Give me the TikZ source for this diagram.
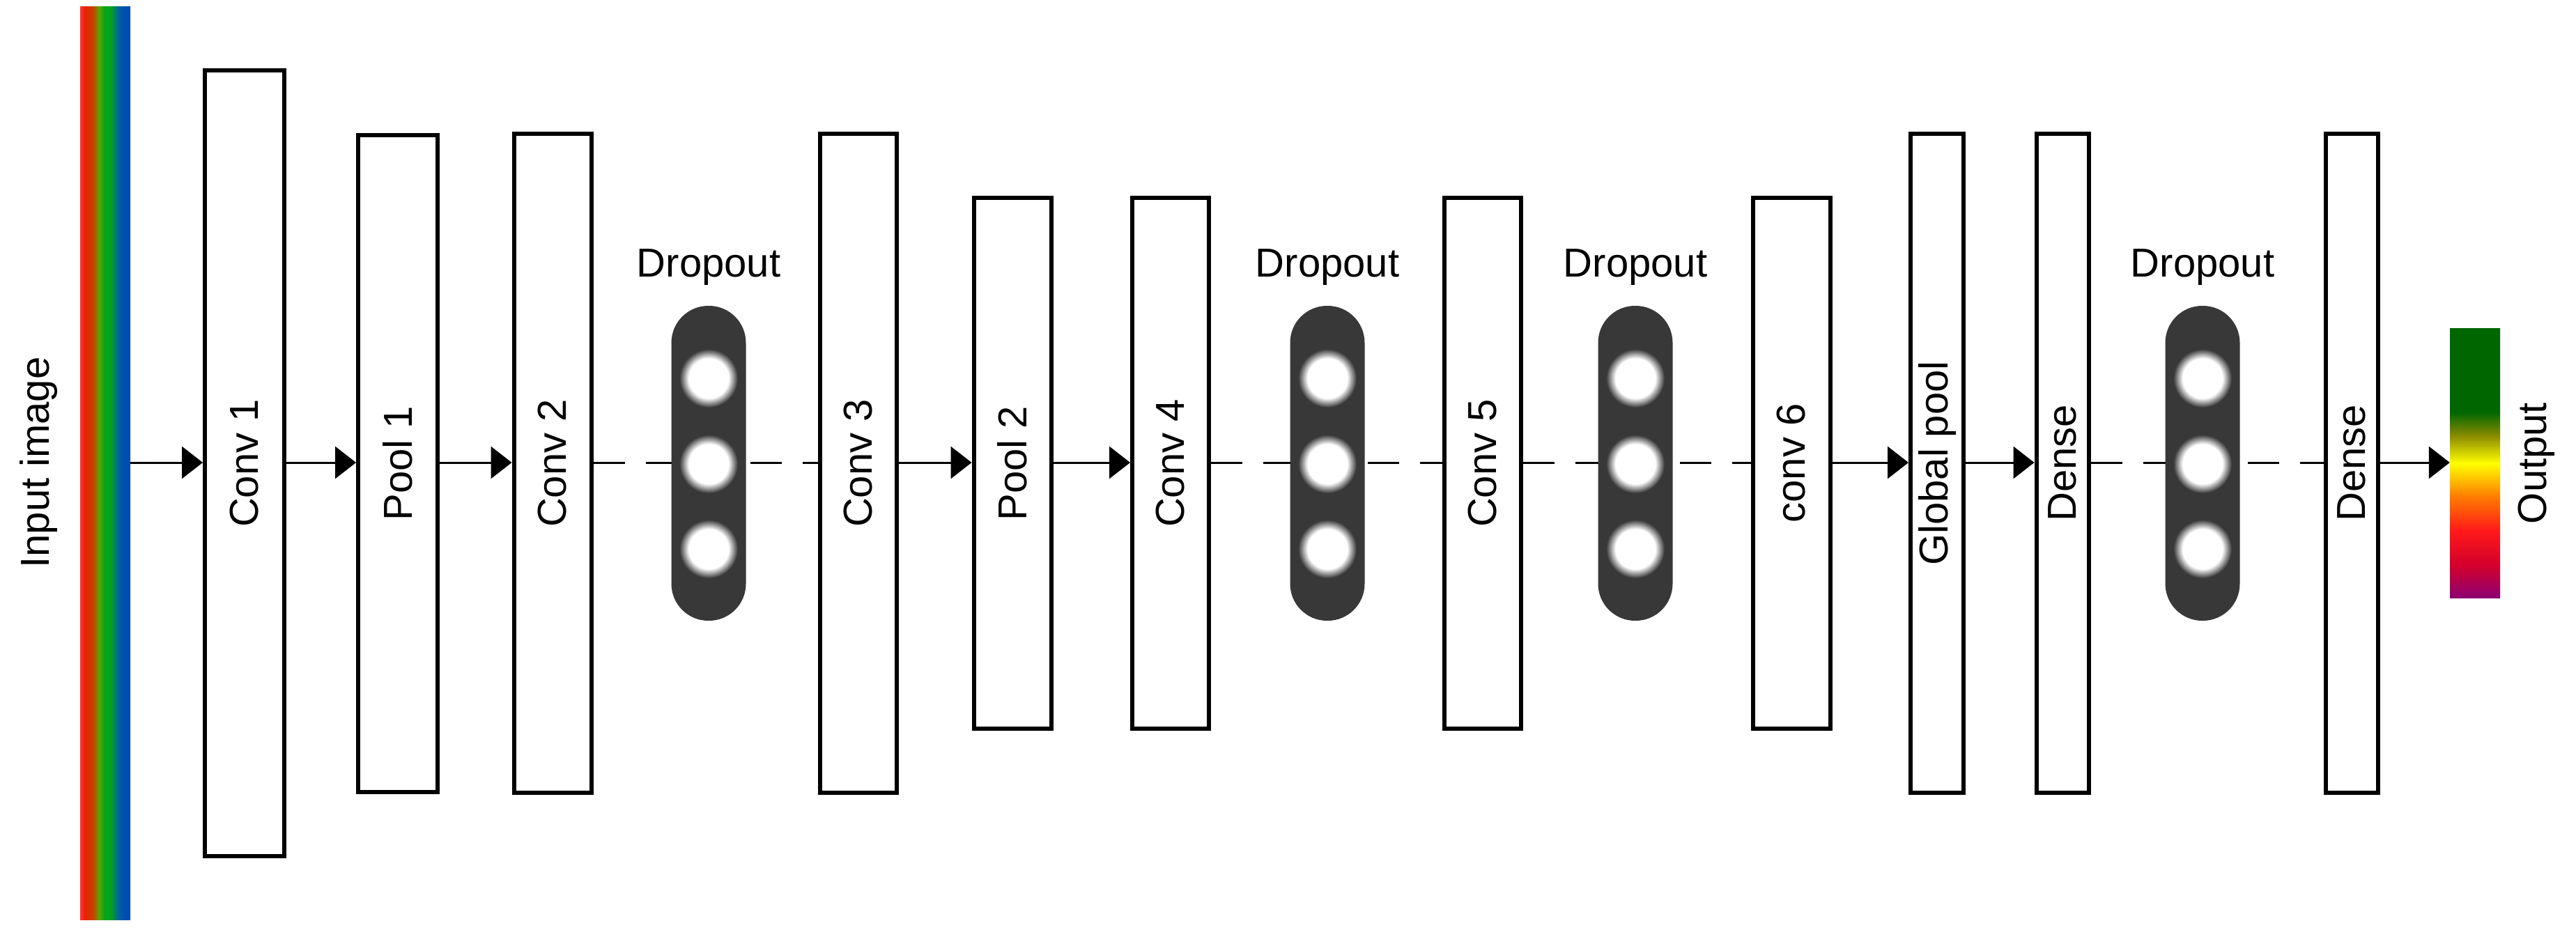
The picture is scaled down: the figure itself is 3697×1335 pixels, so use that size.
\documentclass[tikz,border=0pt]{standalone}
\usepackage{fontspec}
\setmainfont{Liberation Sans}
\usetikzlibrary{arrows.meta}
\pgfdeclarehorizontalshading{inputsh}{100bp}{color(0bp)=(red!80!white); color(25bp)=(red!80!white); color(30bp)=(red!70!orange!90!black); color(37.5bp)=(orange!60!red!80!black); color(44bp)=(olive!70!green); color(50bp)=(green!60!black!90!cyan); color(56bp)=(green!60!black!90!cyan); color(62.5bp)=(teal!80!blue); color(69bp)=(blue!55!black!70!cyan); color(100bp)=(blue!55!black!70!cyan)}
\pgfdeclareverticalshading{outsh}{100bp}{color(0bp)=(violet!80!purple); color(25bp)=(violet!80!purple); color(31bp)=(purple!70!red); color(37.5bp)=(red!90!white); color(44bp)=(orange); color(50bp)=(yellow); color(55bp)=(olive!90!yellow); color(59.5bp)=(green!40!black); color(100bp)=(green!40!black)}
\pgfdeclareradialshading{glow}{\pgfpoint{0bp}{0bp}}{color(0bp)=(white); color(17bp)=(white); color(25bp)=(black!78); color(50bp)=(black!78)}
\begin{document}
\begin{tikzpicture}[x=1pt,y=-1pt,
  layer/.style={draw=black,line width=6pt,fill=white,inner sep=0pt},
  lbl/.style={rotate=90,font=\fontsize{58}{58}\selectfont,inner sep=0pt},
  dlbl/.style={font=\fontsize{58}{58}\selectfont,inner sep=0pt},
  pill/.style={fill=black!78,rounded corners=53pt,minimum width=107pt,minimum height=452pt,inner sep=0pt},
  dot/.style={circle,shading=glow,minimum size=84pt,inner sep=0pt},
  arr/.style={line width=3pt,-{Triangle[length=30pt,width=46pt]}},
  dsh/.style={line width=3pt,dash pattern=on 45pt off 30pt}]
\useasboundingbox (0,0) rectangle (3697,1335);
% input
\node (inp) [shading=inputsh,minimum width=72pt,minimum height=1310pt,inner sep=0pt] at (151,665) {};
\node (inpl) [lbl] at (56,664) {Input image};
% layers
\node (c1) [layer,minimum width=114pt,minimum height=1127pt] at (351,665) {};
\node (p1) [layer,minimum width=114pt,minimum height=943pt] at (571,665) {};
\node (c2) [layer,minimum width=111pt,minimum height=946pt] at (793,665) {};
\node (c3) [layer,minimum width=110pt,minimum height=946pt] at (1232,665) {};
\node (p2) [layer,minimum width=111pt,minimum height=762pt] at (1453,665) {};
\node (c4) [layer,minimum width=110pt,minimum height=762pt] at (1680,665) {};
\node (c5) [layer,minimum width=110pt,minimum height=762pt] at (2128,665) {};
\node (c6) [layer,minimum width=111pt,minimum height=762pt] at (2571,665) {};
\node (gp) [layer,minimum width=76pt,minimum height=946pt] at (2780,665) {};
\node (d1) [layer,minimum width=75pt,minimum height=946pt] at (2960,665) {};
\node (d2) [layer,minimum width=75pt,minimum height=946pt] at (3375,665) {};
\node (out) [shading=outsh,minimum width=72pt,minimum height=387pt,inner sep=0pt] at (3552,665) {};
\node (outl) [lbl] at (3640,665) {Output};
% connectors
\draw[arr] (inp.east |- 0,664) -- (c1.west |- 0,664);
\draw[arr] (c1.east |- 0,664) -- (p1.west |- 0,664);
\draw[arr] (p1.east |- 0,664) -- (c2.west |- 0,664);
\draw[dsh] (c2.east |- 0,664) -- (c3.west |- 0,664);
\draw[arr] (c3.east |- 0,664) -- (p2.west |- 0,664);
\draw[arr] (p2.east |- 0,664) -- (c4.west |- 0,664);
\draw[dsh] (c4.east |- 0,664) -- (c5.west |- 0,664);
\draw[dsh] (c5.east |- 0,664) -- (c6.west |- 0,664);
\draw[arr] (c6.east |- 0,664) -- (gp.west |- 0,664);
\draw[arr] (gp.east |- 0,664) -- (d1.west |- 0,664);
\draw[dsh] (d1.east |- 0,664) -- (d2.west |- 0,664);
\draw[arr] (d2.east |- 0,664) -- (out.west |- 0,664);
% layer labels
\node (c1l) [lbl] at (c1) {Conv 1};
\node (p1l) [lbl] at (p1) {Pool 1};
\node (c2l) [lbl] at (c2) {Conv 2};
\node (c3l) [lbl] at (c3) {Conv 3};
\node (p2l) [lbl] at (p2) {Pool 2};
\node (c4l) [lbl] at (c4) {Conv 4};
\node (c5l) [lbl] at (c5) {Conv 5};
\node (c6l) [lbl] at (c6) {conv 6};
\node (gpl) [lbl] at (gp) {Global pool};
\node (d1l) [lbl] at (d1) {Dense};
\node (d2l) [lbl] at (d2) {Dense};
% dropouts
\foreach \n/\x in {a/1017,b/1905,c/2347,d/3161}{
  \node (pill\n) [pill] at (\x,665) {};
  \node (dl\n) [dlbl] at (\x,384) {Dropout};
  \node (dt\n) [dot] at (\x,543) {};
  \node (dm\n) [dot] at (\x,666) {};
  \node (db\n) [dot] at (\x,788) {};
}
\end{tikzpicture}
\end{document}
